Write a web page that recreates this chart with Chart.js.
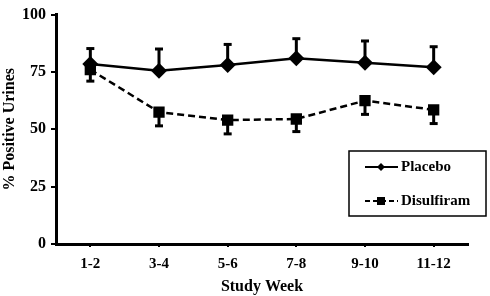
<!DOCTYPE html>
<html>
<head>
<meta charset="utf-8">
<script src="https://cdn.jsdelivr.net/npm/chart.js@4"></script>
<style>
  html, body { margin: 0; padding: 0; background: #fff; }
  #chart { display: block; }
</style>
</head>
<body>
<canvas id="chart" width="490" height="296"></canvas>
<script>
// data
const weeks = ["1-2", "3-4", "5-6", "7-8", "9-10", "11-12"];
const placeboValues = [78.5, 75.5, 78, 81, 79, 77];
const placeboErrUp = [6.7, 9.5, 9, 8.5, 9.5, 9];
const disulfiramValues = [76, 57.5, 54, 54.5, 62.5, 58.5];
const disulfiramErrDown = [5, 6, 6, 5.5, 6, 6];
const yTicks = [0, 25, 50, 75, 100];

const FONT = "'Liberation Serif', 'DejaVu Serif', serif";

// one-sided error bars: placebo up, disulfiram down
const errorBarsPlugin = {
    id: "errorBars",
    beforeDatasetsDraw(chart) {
        const { ctx } = chart;
        const yScale = chart.scales.y;
        chart.data.datasets.forEach((ds, di) => {
            const meta = chart.getDatasetMeta(di);
            ds.data.forEach((v, i) => {
                const pt = meta.data[i];
                const end = ds.errUp ? v + ds.errUp[i] : v - ds.errDown[i];
                const yEnd = yScale.getPixelForValue(end);
                ctx.save();
                ctx.strokeStyle = "#000";
                ctx.lineWidth = 3;
                ctx.beginPath();
                ctx.moveTo(pt.x, pt.y);
                ctx.lineTo(pt.x, yEnd);
                ctx.stroke();
                ctx.beginPath();
                ctx.moveTo(pt.x - 4, yEnd);
                ctx.lineTo(pt.x + 4, yEnd);
                ctx.stroke();
                ctx.restore();
            });
        });
    },
};

// boxed legend inside the plot
const boxLegendPlugin = {
    id: "boxLegend",
    afterDraw(chart) {
        const { ctx } = chart;
        const box = { x: 349, y: 151, w: 137, h: 65 };
        ctx.save();
        ctx.strokeStyle = "#000";
        ctx.lineWidth = 1.5;
        ctx.strokeRect(box.x, box.y, box.w, box.h);
        const rows = [
            { label: "Placebo", y: box.y + 16, dash: [], marker: "diamond" },
            { label: "Disulfiram", y: box.y + 50, dash: [5, 3], marker: "square" },
        ];
        rows.forEach((r) => {
            ctx.setLineDash(r.dash);
            ctx.lineWidth = 2;
            ctx.beginPath();
            ctx.moveTo(box.x + 16, r.y);
            ctx.lineTo(box.x + 49, r.y);
            ctx.stroke();
            ctx.setLineDash([]);
            ctx.fillStyle = "#000";
            const cx = box.x + 32;
            if (r.marker === "diamond") {
                ctx.beginPath();
                ctx.moveTo(cx, r.y - 4);
                ctx.lineTo(cx + 4, r.y);
                ctx.lineTo(cx, r.y + 4);
                ctx.lineTo(cx - 4, r.y);
                ctx.closePath();
                ctx.fill();
            } else {
                ctx.fillRect(cx - 4, r.y - 4, 8, 8);
            }
            ctx.font = "bold 15px " + FONT;
            ctx.textBaseline = "middle";
            ctx.textAlign = "left";
            ctx.fillText(r.label, box.x + 52, r.y);
        });
        ctx.restore();
    },
};

new Chart(document.getElementById("chart"), {
    type: "line",
    data: {
        labels: weeks,
        datasets: [
            {
                label: "Placebo",
                data: placeboValues,
                errUp: placeboErrUp,
                borderColor: "#000",
                backgroundColor: "#000",
                borderWidth: 2.5,
                pointStyle: "rectRot",
                pointRadius: 8,
                pointBorderWidth: 0,
                tension: 0,
            },
            {
                label: "Disulfiram",
                data: disulfiramValues,
                errDown: disulfiramErrDown,
                borderColor: "#000",
                backgroundColor: "#000",
                borderWidth: 2.5,
                borderDash: [7, 4],
                pointStyle: "rect",
                pointRadius: 8,
                pointBorderWidth: 0,
                tension: 0,
            },
        ],
    },
    options: {
        responsive: false,
        animation: false,
        layout: { padding: { top: 7, right: 22, left: 0, bottom: 0 } },
        plugins: {
            legend: { display: false },
            tooltip: { enabled: false },
        },
        scales: {
            x: {
                offset: true,
                grid: { drawOnChartArea: false, drawTicks: true, tickLength: 3, color: "#000", lineWidth: 2 },
                border: { color: "#000", width: 3 },
                ticks: { color: "#000", font: { family: FONT, size: 15, weight: "bold" }, padding: 8 },
                title: {
                    display: true,
                    text: "Study Week",
                    color: "#000",
                    font: { family: FONT, size: 16, weight: "bold" },
                    padding: { top: 4, bottom: 0 },
                },
                afterFit: (scale) => { scale.height = 52; },
            },
            y: {
                min: 0,
                max: 100,
                afterBuildTicks: (scale) => { scale.ticks = yTicks.map((v) => ({ value: v })); },
                grid: { drawOnChartArea: false, drawTicks: true, tickLength: 5, color: "#000", lineWidth: 2 },
                border: { color: "#000", width: 3 },
                ticks: { color: "#000", font: { family: FONT, size: 16, weight: "bold" }, padding: 5 },
                title: {
                    display: true,
                    text: "% Positive Urines",
                    color: "#000",
                    font: { family: FONT, size: 16, weight: "bold" },
                    padding: { top: 0, bottom: 2 },
                },
                afterFit: (scale) => { scale.width = 56; },
            },
        },
    },
    plugins: [errorBarsPlugin, boxLegendPlugin],
});
</script>
</body>
</html>
